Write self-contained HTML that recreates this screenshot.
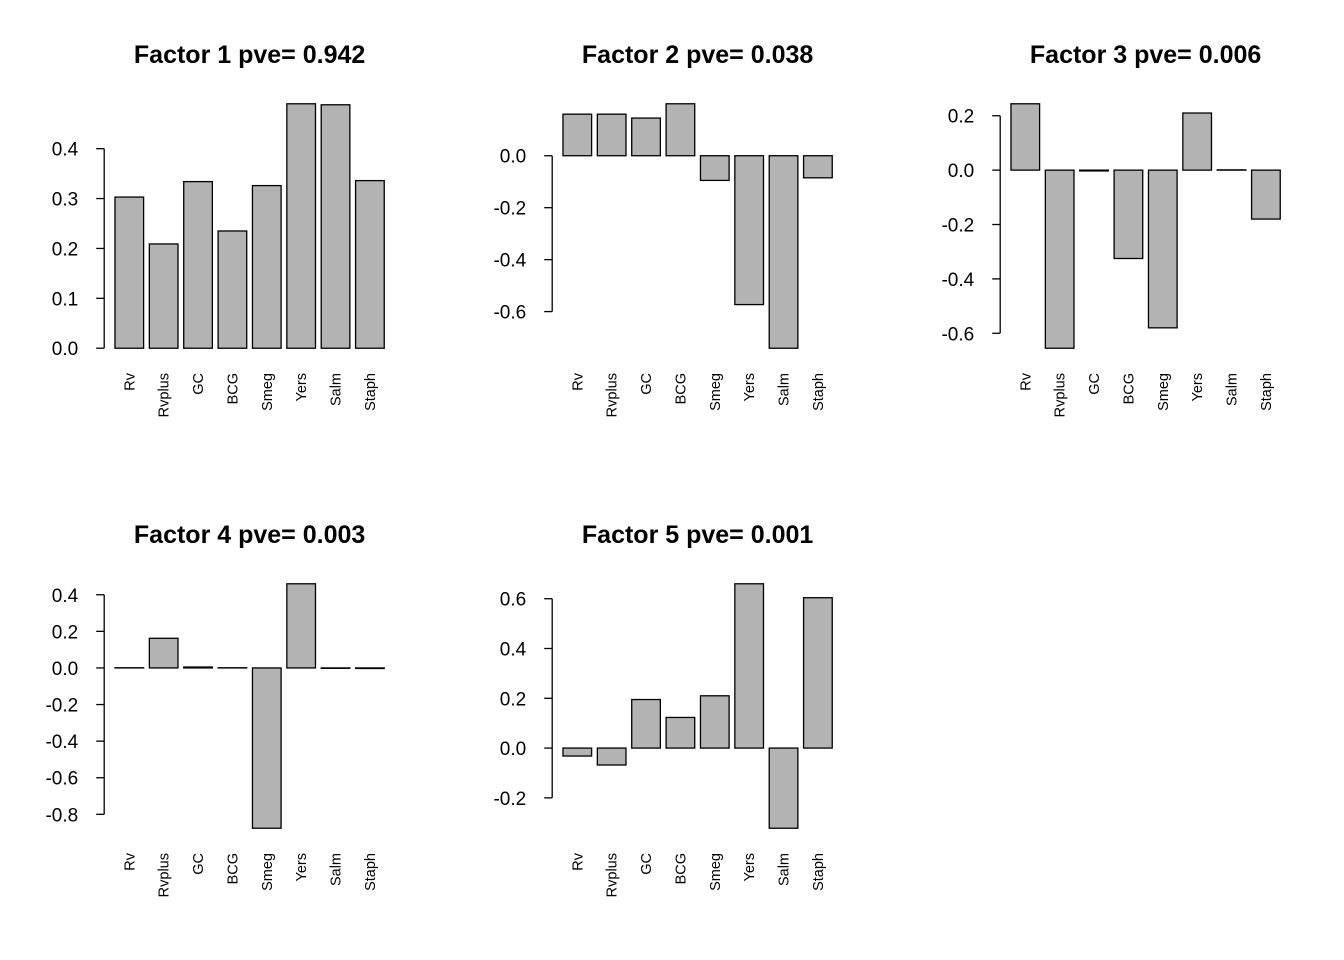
<!DOCTYPE html>
<html><head><meta charset="utf-8"><style>
body{margin:0;background:#fff}
svg{display:block;font-family:"Liberation Sans",Arial,sans-serif}
</style></head><body>
<svg id="chart" width="1344" height="960"></svg>
<script>
const categories=["Rv","Rvplus","GC","BCG","Smeg","Yers","Salm","Staph"];
const titles=["Factor 1 pve= 0.942","Factor 2 pve= 0.038","Factor 3 pve= 0.006","Factor 4 pve= 0.003","Factor 5 pve= 0.001"];
const factor1=[0.303,0.209,0.334,0.235,0.326,0.490,0.488,0.336];
const factor2=[0.160,0.160,0.145,0.200,-0.095,-0.573,-0.741,-0.085];
const factor3=[0.244,-0.655,-0.003,-0.325,-0.580,0.210,0.001,-0.180];
const factor4=[0.001,0.162,0.005,0.001,-0.876,0.460,-0.002,-0.003];
const factor5=[-0.032,-0.068,0.195,0.123,0.210,0.660,-0.322,0.604];
const ticks1=[0.0,0.1,0.2,0.3,0.4];
const ticks2=[-0.6,-0.4,-0.2,0.0];
const ticks3=[-0.6,-0.4,-0.2,0.0,0.2];
const ticks4=[-0.8,-0.6,-0.4,-0.2,0.0,0.2,0.4];
const ticks5=[-0.2,0.0,0.2,0.4,0.6];
const series=[factor1,factor2,factor3,factor4,factor5];
const tickSets=[ticks1,ticks2,ticks3,ticks4,ticks5];
const NS="http://www.w3.org/2000/svg";
const svg=document.getElementById("chart");
function mk(tag,attrs,parent){const e=document.createElementNS(NS,tag);for(const k in attrs)e.setAttribute(k,attrs[k]);(parent||svg).appendChild(e);return e;}
series.forEach((vals,p)=>{
  const col=p%3,row=Math.floor(p/3);
  const ox=col*448,oy=row*480;
  const g=mk("g",{});
  
  
  const L=ox+104.2,R=ox+395,T=oy+94,B=oy+358;
  const n=vals.length;
  const x0=0.2,x1=n*1.2;const xs=(x1-x0)*0.04;const xmin=x0-xs,xmax=x1+xs;
  const xS=u=>L+(u-xmin)/(xmax-xmin)*(R-L);
  let ymin=Math.min(0,...vals),ymax=Math.max(0,...vals);const ys=(ymax-ymin)*0.04;
  const lo=ymin-ys,hi=ymax+ys;
  const yS=v=>B-(v-lo)/(hi-lo)*(B-T);
  const t=mk("text",{x:(L+R)/2,y:oy+63,"text-anchor":"middle","font-size":"25","font-weight":"bold"},g);
  t.textContent=titles[p];
  
  
  vals.forEach((v,i)=>{
    const a=0.2+i*1.2,b=a+1;
    const y1=yS(Math.max(v,0)),y2=yS(Math.min(v,0));
    const r=mk("rect",{x:xS(a),y:y1,width:xS(b)-xS(a),height:Math.max(y2-y1,0.01),fill:"#b3b3b3",stroke:"#000","stroke-width":"1.3"},g);
    
    
    const cx=(xS(a)+xS(b))/2;
    const lb=mk("text",{x:0,y:0,"text-anchor":"end","font-size":"14.5",transform:`translate(${cx+5},${B+15}) rotate(-90)`},g);
    lb.textContent=categories[i];
    
    
  });
  const tk=tickSets[p];
  const ax=mk("line",{x1:L,x2:L,y1:yS(tk[0]),y2:yS(tk[tk.length-1]),stroke:"#000","stroke-width":"1.3"},g);
  
  
  tk.forEach(v=>{
    mk("line",{x1:L-8,x2:L,y1:yS(v),y2:yS(v),stroke:"#000","stroke-width":"1.3"},g);
    const tl=mk("text",{x:L-26,y:yS(v)+7,"text-anchor":"end","font-size":"19"},g);
    tl.textContent=v.toFixed(1);
    
    
  });
});
</script>
</body></html>
